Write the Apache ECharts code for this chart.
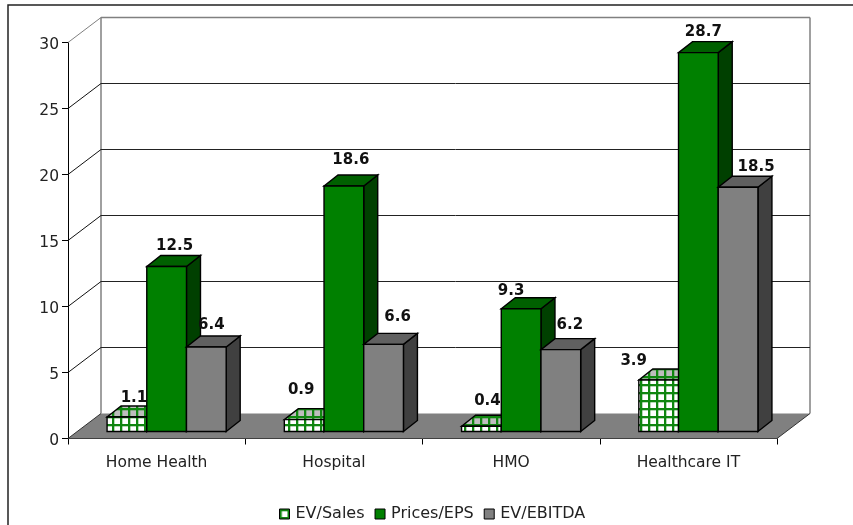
<!DOCTYPE html>
<html>
<head>
<meta charset="utf-8">
<style>html,body{margin:0;padding:0;background:#fff}#c{width:853px;height:525px}</style>
<script src="https://cdn.jsdelivr.net/npm/echarts@6/dist/echarts.min.js"></script>
</head>
<body>
<div id="c"></div>
<script>
const categories = ['Home Health', 'Hospital', 'HMO', 'Healthcare IT'];
const evSales = [1.1, 0.9, 0.4, 3.9];
const pricesEps = [12.5, 18.6, 9.3, 28.7];
const evEbitda = [6.4, 6.6, 6.2, 18.5];
const yTicks = [0, 5, 10, 15, 20, 25, 30];

// label nudges relative to each bar's top-front centre (pixels)
const nudgeSales = [[7, -19], [-3, -30], [6, -25], [-25, -19]];
const nudgeEps = [[8, -20], [7, -26], [-10, -18], [5, -21]];
const nudgeEbitda = [[5, -22], [14, -27], [9, -25], [18, -20]];

function patternCanvas(bg) {
  const cv = document.createElement('canvas');
  cv.width = 8; cv.height = 8;
  const g = cv.getContext('2d');
  g.fillStyle = bg; g.fillRect(0, 0, 8, 8);
  g.fillStyle = '#108610';
  g.fillRect(0, 0, 8, 2.3); g.fillRect(0, 0, 2.3, 8);
  return cv;
}
const frontPattern = { image: patternCanvas('#ffffff'), repeat: 'repeat' };
const topPattern = { image: patternCanvas('#bdbdbd'), repeat: 'repeat' };

const WALL_DX = 33, WALL_DY = -25;
const FLOOR_DX = 10, FLOOR_DY = -7;
const BAR_DX = 14, BAR_DY = -11;
const BAR_RATIO = 0.224;

function barRenderer(seriesPos, nudges, front, top, side) {
  return function (params, api) {
    const i = params.dataIndex;
    const base = api.coord([api.value(0), 0]);
    const head = api.coord([api.value(0), api.value(1)]);
    const band = api.size([1, 0])[0];
    const w = band * BAR_RATIO;
    const x0 = base[0] + FLOOR_DX + (seriesPos - 1.5) * w;
    const x1 = x0 + w;
    const yb = base[1] + FLOOR_DY;
    const yt = head[1] + FLOOR_DY;
    const edge = { stroke: '#000', lineWidth: 1.4, lineJoin: 'miter' };
    const n = nudges[i];
    return {
      type: 'group',
      children: [
        { type: 'text', style: { x: (x0 + x1) / 2 + n[0], y: yt + n[1], text: api.value(1).toFixed(1),
            fill: '#111', font: 'bold 15px "DejaVu Sans"', align: 'center', verticalAlign: 'middle' } },
        { type: 'polygon', shape: { points: [[x1, yb], [x1 + BAR_DX, yb + BAR_DY], [x1 + BAR_DX, yt + BAR_DY], [x1, yt]] },
          style: Object.assign({ fill: side }, edge) },
        { type: 'polygon', shape: { points: [[x0, yt], [x1, yt], [x1 + BAR_DX, yt + BAR_DY], [x0 + BAR_DX, yt + BAR_DY]] },
          style: Object.assign({ fill: top }, edge) },
        { type: 'rect', shape: { x: x0, y: yt, width: w, height: yb - yt },
          style: Object.assign({ fill: front }, edge) }
      ]
    };
  };
}

function wallRenderer(params, api) {
  const v = api.value(0);
  const cs = params.coordSys;
  const left = cs.x, right = cs.x + cs.width;
  const y = api.coord([0, v])[1];
  const bx0 = left + WALL_DX, bx1 = right + WALL_DX, by = y + WALL_DY;
  const isTop = v === yTicks[yTicks.length - 1];
  const children = [];
  if (v === 0) {
    const topY = api.coord([0, yTicks[yTicks.length - 1]])[1] + WALL_DY;
    children.push({ type: 'polygon', shape: { points: [[left, y], [right, y], [bx1, by], [bx0, by]] },
      style: { fill: '#808080', stroke: 'none' } });
    children.push({ type: 'polyline', shape: { points: [[bx0, by], [bx0, topY]] }, style: { stroke: '#808080', lineWidth: 1.5, fill: 'none' } });
    children.push({ type: 'polyline', shape: { points: [[bx1, by], [bx1, topY]] }, style: { stroke: '#808080', lineWidth: 1.5, fill: 'none' } });
    children.push({ type: 'polyline', shape: { points: [[left, y], [bx0, by]] }, style: { stroke: '#333', lineWidth: 1, fill: 'none' } });
    children.push({ type: 'polyline', shape: { points: [[right, y], [bx1, by]] }, style: { stroke: '#333', lineWidth: 1, fill: 'none' } });
  } else {
    children.push({ type: 'polyline', shape: { points: [[left, y], [bx0, by]] },
      style: { stroke: isTop ? '#808080' : '#111', lineWidth: 1, fill: 'none' } });
    children.push({ type: 'polyline', shape: { points: [[bx0, by], [bx1, by]] },
      style: { stroke: isTop ? '#808080' : '#222', lineWidth: isTop ? 1.5 : 1, fill: 'none' } });
  }
  return { type: 'group', children };
}

function pairs(vals) { return vals.map((v, i) => [categories[i], v]); }

const chart = echarts.init(document.getElementById('c'), null, { renderer: 'canvas' });
const axisFont = { fontFamily: 'DejaVu Sans', fontSize: 15.5, color: '#222' };
chart.setOption({
  animation: false,
  backgroundColor: '#ffffff',
  grid: { left: 68, right: 76, top: 42.5, bottom: 86.5 },
  legend: {
    left: 274, top: 501, itemWidth: 10, itemHeight: 10, itemGap: 10, selectedMode: false,
    textStyle: { fontFamily: 'DejaVu Sans', fontSize: 16, color: '#222', padding: [0, 0, 0, 1] },
    data: [
      { name: 'EV/Sales', icon: 'rect', itemStyle: { color: frontPattern, borderColor: '#000', borderWidth: 1 } },
      { name: 'Prices/EPS', icon: 'rect', itemStyle: { color: '#008000', borderColor: '#000', borderWidth: 1 } },
      { name: 'EV/EBITDA', icon: 'rect', itemStyle: { color: '#808080', borderColor: '#000', borderWidth: 1 } }
    ]
  },
  xAxis: {
    type: 'category', data: categories,
    axisLine: { lineStyle: { color: '#000', width: 1 } },
    axisTick: { show: true, length: 6, lineStyle: { color: '#000' } },
    axisLabel: Object.assign({ margin: 16 }, axisFont),
    splitLine: { show: false }
  },
  yAxis: {
    type: 'value', min: 0, max: 30, interval: 5,
    axisLine: { show: true, lineStyle: { color: '#000', width: 1 } },
    axisTick: { show: true, length: 6, lineStyle: { color: '#000' } },
    axisLabel: Object.assign({ margin: 9, verticalAlign: 'top', lineHeight: 4 }, axisFont),
    splitLine: { show: false }
  },
  graphic: [{
    type: 'polyline', silent: true, z: 100,
    shape: { points: [[8, 525], [8, 5], [853, 5]] },
    style: { stroke: '#222', lineWidth: 1.5, fill: 'none' }
  }],
  series: [
    { name: 'walls', type: 'custom', renderItem: wallRenderer, z: 1, silent: true,
      encode: { y: 0 }, data: yTicks.map(v => [v]) },
    { name: 'EV/Sales', type: 'custom', z: 2, encode: { x: 0, y: 1 }, data: pairs(evSales),
      itemStyle: { color: '#008000' },
      renderItem: barRenderer(0, nudgeSales, frontPattern, topPattern, '#004000') },
    { name: 'Prices/EPS', type: 'custom', z: 3, encode: { x: 0, y: 1 }, data: pairs(pricesEps),
      itemStyle: { color: '#008000' },
      renderItem: barRenderer(1, nudgeEps, '#008000', '#006000', '#004000') },
    { name: 'EV/EBITDA', type: 'custom', z: 4, encode: { x: 0, y: 1 }, data: pairs(evEbitda),
      itemStyle: { color: '#808080' },
      renderItem: barRenderer(2, nudgeEbitda, '#808080', '#606060', '#404040') }
  ]
});
</script>
</body>
</html>
